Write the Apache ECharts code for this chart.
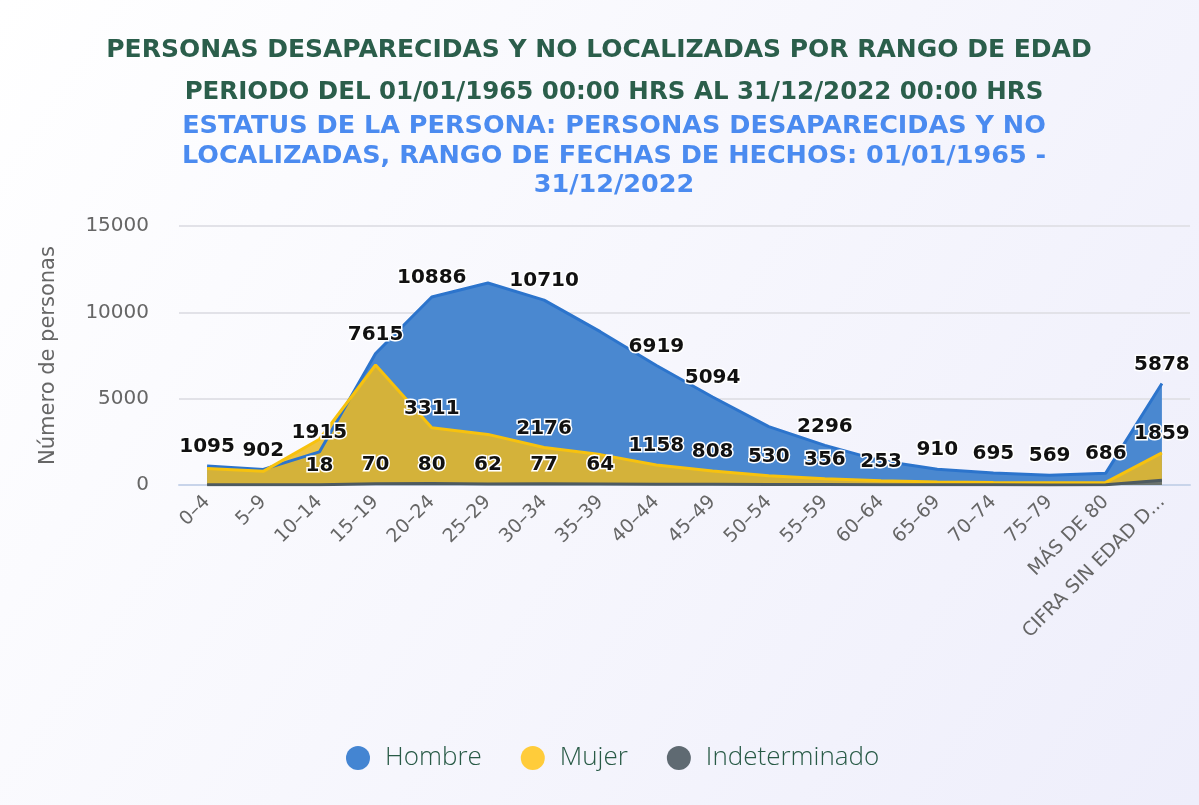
<!DOCTYPE html>
<html>
<head>
<meta charset="utf-8">
<title>Personas desaparecidas por rango de edad</title>
<script src="https://cdn.jsdelivr.net/npm/echarts@6/dist/echarts.min.js"></script>
<style>
    html, body {
        margin: 0;
        padding: 0;
        background: #ffffff;
    }

    #chart {
        width: 1199px;
        height: 805px;
    }
</style>
</head>
<body>
<div id="chart"></div>
<script>
    // rangos de edad
    const categories = ['0–4', '5–9', '10–14', '15–19', '20–24', '25–29', '30–34', '35–39', '40–44',
        '45–49', '50–54', '55–59', '60–64', '65–69', '70–74', '75–79', 'MÁS DE 80', 'CIFRA SIN EDAD DEFINIDA'];
    const hombre = [1095, 902, 1915, 7615, 10886, 11700, 10710, 8880, 6919, 5094, 3380, 2296, 1400, 910, 695, 569, 686, 5878];
    const mujer = [960, 790, 2650, 6950, 3311, 2930, 2176, 1760, 1158, 808, 530, 356, 253, 180, 150, 130, 150, 1859];
    const indeterminado = [10, 8, 18, 70, 80, 62, 77, 64, 50, 40, 30, 22, 15, 10, 8, 6, 8, 280];
    const yTicks = [0, 5000, 10000, 15000];

    // indices whose value label is visible in the original
    const hombreLabels = [0, 1, 2, 3, 4, 6, 8, 9, 11, 13, 14, 15, 16, 17];
    const mujerLabels = [4, 6, 8, 9, 10, 11, 12, 17];
    const indetLabels = [2, 3, 4, 5, 6, 7];

    const labelStyle = {
        position: 'top',
        distance: 9,
        color: '#111',
        fontFamily: 'DejaVu Sans',
        fontWeight: 'bold',
        fontSize: 20,
        textBorderColor: '#fff',
        textBorderWidth: 3
    };

    function withLabels(values, shown) {
        return values.map((v, i) => ({
            value: v,
            label: {show: shown.indexOf(i) >= 0}
        }));
    }

    let myChart = echarts.init(document.getElementById('chart'));
    let option = {
        backgroundColor: new echarts.graphic.LinearGradient(0, 0, 1, 1, [
            {offset: 0, color: '#ffffff'},
            {offset: 1, color: '#eeeefb'}
        ]),
        title: [
            {
                text: 'PERSONAS DESAPARECIDAS Y NO LOCALIZADAS POR RANGO DE EDAD',
                left: 594,
                top: 33,
                textAlign: 'center',
                textStyle: {color: '#2b5e4b', fontFamily: 'DejaVu Sans', fontWeight: 'bold', fontSize: 25}
            },
            {
                text: 'PERIODO DEL 01/01/1965 00:00 HRS AL 31/12/2022 00:00 HRS',
                left: 609,
                top: 75,
                textAlign: 'center',
                textStyle: {color: '#2b5e4b', fontFamily: 'DejaVu Sans', fontWeight: 'bold', fontSize: 24.5}
            },
            {
                text: 'ESTATUS DE LA PERSONA: PERSONAS DESAPARECIDAS Y NO\nLOCALIZADAS, RANGO DE FECHAS DE HECHOS: 01/01/1965 -\n31/12/2022',
                left: 609,
                top: 107,
                textAlign: 'center',
                textStyle: {color: '#4b8bf0', fontFamily: 'DejaVu Sans', fontWeight: 'bold', fontSize: 25.5, lineHeight: 29.5}
            }
        ],
        legend: {
            bottom: 29,
            left: 341,
            icon: 'circle',
            itemWidth: 24,
            itemHeight: 24,
            itemGap: 39,
            data: ['Hombre', 'Mujer', 'Indeterminado'],
            textStyle: {color: '#285a46', fontFamily: 'Open Sans', fontSize: 26, fontWeight: 300, padding: [0, 0, 0, 10]}
        },
        grid: {
            left: 179,
            right: 9,
            top: 226,
            bottom: 320
        },
        xAxis: {
            type: 'category',
            boundaryGap: true,
            data: categories,
            axisLine: {lineStyle: {color: '#c8d4ea', width: 2}},
            axisTick: {show: false},
            axisLabel: {
                rotate: 45,
                margin: 14,
                interval: 0,
                color: '#666',
                fontFamily: 'DejaVu Sans',
                fontSize: 19,
                width: 196,
                overflow: 'truncate',
                ellipsis: '...'
            }
        },
        yAxis: {
            type: 'value',
            min: yTicks[0],
            max: yTicks[yTicks.length - 1],
            interval: 5000,
            name: 'Número de personas',
            nameLocation: 'middle',
            nameGap: 120,
            nameTextStyle: {color: '#666', fontFamily: 'DejaVu Sans', fontSize: 21},
            axisLine: {show: false},
            axisTick: {show: false},
            axisLabel: {
                color: '#666',
                fontFamily: 'DejaVu Sans',
                fontSize: 20,
                margin: 30,
                formatter: v => String(v)
            },
            splitLine: {lineStyle: {color: '#e2e2e8', width: 2}}
        },
        series: [
            {
                name: 'Hombre',
                type: 'line',
                data: withLabels(hombre, hombreLabels),
                showSymbol: true,
                symbol: 'circle',
                symbolSize: 0,
                itemStyle: {color: '#4485d2'},
                lineStyle: {color: '#2c74cc', width: 3},
                areaStyle: {color: '#4a88d0', opacity: 1},
                label: labelStyle
            },
            {
                name: 'Mujer',
                type: 'line',
                data: withLabels(mujer, mujerLabels),
                showSymbol: true,
                symbol: 'circle',
                symbolSize: 0,
                itemStyle: {color: '#ffcc3a'},
                lineStyle: {color: '#f7c20e', width: 3},
                areaStyle: {color: '#ecba20', opacity: 0.85},
                label: labelStyle
            },
            {
                name: 'Indeterminado',
                type: 'line',
                data: withLabels(indeterminado, indetLabels),
                showSymbol: true,
                symbol: 'circle',
                symbolSize: 0,
                itemStyle: {color: '#5f6a72'},
                lineStyle: {color: '#4d5a60', width: 3},
                areaStyle: {color: '#5f6a72', opacity: 0.9},
                label: labelStyle
            }
        ]
    };
    myChart.setOption(option);
</script>
</body>
</html>
